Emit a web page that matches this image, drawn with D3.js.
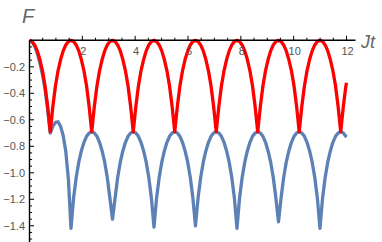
<!DOCTYPE html>
<html><head><meta charset="utf-8">
<script src="https://cdn.jsdelivr.net/npm/d3@7"></script>
<style>html,body{margin:0;padding:0;background:#fff;}svg{display:block;}</style>
</head><body>
<script>
// sample times Jt
const jt = [0,0.098,0.196,0.295,0.393,0.491,0.589,0.687,0.785,0.884,0.982,1.080,1.178,1.276,1.374,1.473,
1.571,1.669,1.767,1.865,1.963,2.062,2.160,2.258,2.356,2.454,2.553,2.651,2.749,2.847,2.945,3.043,
3.142,3.240,3.338,3.436,3.534,3.632,3.731,3.829,3.927,4.025,4.123,4.221,4.320,4.418,4.516,4.614,
4.712,4.811,4.909,5.007,5.105,5.203,5.301,5.400,5.498,5.596,5.694,5.792,5.890,5.989,6.087,6.185,
6.283,6.381,6.480,6.578,6.676,6.774,6.872,6.970,7.069,7.167,7.265,7.363,7.461,7.559,7.658,7.756,
7.854,7.952,8.050,8.149,8.247,8.345,8.443,8.541,8.639,8.738,8.836,8.934,9.032,9.130,9.228,9.327,
9.425,9.523,9.621,9.719,9.817,9.916,10.014,10.112,10.210,10.308,10.407,10.505,10.603,10.701,10.799,10.897,
10.996,11.094,11.192,11.290,11.388,11.486,11.585,11.683,11.781,11.879,11.977,12.0];

// red series F
const redF = [0,-0.009,-0.035,-0.08,-0.145,-0.23,-0.345,-0.5,-0.69,-0.5,-0.345,-0.23,-0.145,-0.08,-0.035,-0.009,
0,-0.009,-0.035,-0.08,-0.145,-0.23,-0.345,-0.5,-0.69,-0.5,-0.345,-0.23,-0.145,-0.08,-0.035,-0.009,
0,-0.009,-0.035,-0.08,-0.145,-0.23,-0.345,-0.5,-0.69,-0.5,-0.345,-0.23,-0.145,-0.08,-0.035,-0.009,
0,-0.009,-0.035,-0.08,-0.145,-0.23,-0.345,-0.5,-0.69,-0.5,-0.345,-0.23,-0.145,-0.08,-0.035,-0.009,
0,-0.009,-0.035,-0.08,-0.145,-0.23,-0.345,-0.5,-0.69,-0.5,-0.345,-0.23,-0.145,-0.08,-0.035,-0.009,
0,-0.009,-0.035,-0.08,-0.145,-0.23,-0.345,-0.5,-0.69,-0.5,-0.345,-0.23,-0.145,-0.08,-0.035,-0.009,
0,-0.009,-0.035,-0.08,-0.145,-0.23,-0.345,-0.5,-0.69,-0.5,-0.345,-0.23,-0.145,-0.08,-0.035,-0.009,
0,-0.009,-0.035,-0.08,-0.145,-0.23,-0.345,-0.5,-0.69,-0.5,-0.345,-0.32];

// blue series F
const blueF = [0,-0.012,-0.045,-0.1,-0.17,-0.26,-0.37,-0.52,-0.7,-0.65,-0.62,-0.615,-0.65,-0.72,-0.84,-1.05,-1.42,
-1.19,-1.035,-0.92,-0.835,-0.77,-0.725,-0.699,-0.69,-0.699,-0.725,-0.77,-0.835,-0.92,-1.035,-1.19,-1.35,
-1.19,-1.035,-0.92,-0.835,-0.77,-0.725,-0.699,-0.69,-0.699,-0.725,-0.77,-0.835,-0.92,-1.035,-1.19,-1.41,
-1.19,-1.035,-0.92,-0.835,-0.77,-0.725,-0.699,-0.69,-0.699,-0.725,-0.77,-0.835,-0.92,-1.035,-1.19,-1.40,
-1.19,-1.035,-0.92,-0.835,-0.77,-0.725,-0.699,-0.69,-0.699,-0.725,-0.77,-0.835,-0.92,-1.035,-1.19,-1.42,
-1.19,-1.035,-0.92,-0.835,-0.77,-0.725,-0.699,-0.69,-0.699,-0.725,-0.77,-0.835,-0.92,-1.035,-1.19,-1.37,
-1.19,-1.035,-0.92,-0.835,-0.77,-0.725,-0.699,-0.69,-0.699,-0.725,-0.77,-0.835,-0.92,-1.035,-1.19,-1.42,
-1.19,-1.035,-0.92,-0.835,-0.77,-0.725,-0.699,-0.69,-0.699,-0.725,-0.73];

const xMajor = [2,4,6,8,10,12];
const yMajor = [-0.2,-0.4,-0.6,-0.8,-1.0,-1.2,-1.4];
const xLabel = "Jt";
const yLabel = "F";

const W = 382, H = 242;
const svg = d3.select("body").append("svg").attr("width", W).attr("height", H);

const x = d3.scaleLinear().domain([0, 12]).range([29.5, 346.5]);
const y = d3.scaleLinear().domain([0, -1.52]).range([40.3, 241.7]);

const tickCol = "#555";
const font = "'Liberation Sans', Arial, sans-serif";

// curves: blue first, red on top
const line = d3.line().x(d => x(d[0])).y(d => y(d[1])).curve(d3.curveLinear);
svg.append("path").datum(jt.map((t, i) => [t, blueF[i]]))
  .attr("d", line).attr("fill", "none").attr("stroke", "#5E81B5")
  .attr("stroke-width", 3.3).attr("stroke-linejoin", "round").attr("stroke-linecap", "butt");
svg.append("path").datum(jt.map((t, i) => [t, redF[i]]))
  .attr("d", line).attr("fill", "none").attr("stroke", "#FF0000")
  .attr("stroke-width", 3.3).attr("stroke-linejoin", "round").attr("stroke-linecap", "butt");

// x axis (ticks pointing up, inward)
const xMinor = d3.range(0.5, 12.01, 0.5).filter(v => !xMajor.includes(v));
const xAxis = svg.append("g").attr("transform", `translate(0,${y(0)})`);
xAxis.append("line").attr("x1", x(0)).attr("x2", 355.5).attr("y1", 0).attr("y2", 0)
  .attr("stroke", "#000").attr("stroke-width", 1.4);
xAxis.selectAll(".xmaj").data(xMajor).join("line")
  .attr("x1", d => x(d)).attr("x2", d => x(d)).attr("y1", 0).attr("y2", -4.5)
  .attr("stroke", "#000").attr("stroke-width", 1);
xAxis.selectAll(".xmin").data(xMinor).join("line")
  .attr("x1", d => x(d)).attr("x2", d => x(d)).attr("y1", 0).attr("y2", -2.6)
  .attr("stroke", "#000").attr("stroke-width", 1);
xAxis.selectAll("text").data(xMajor).join("text")
  .attr("x", d => x(d) + 1).attr("y", 15.2)
  .attr("text-anchor", "middle").attr("fill", tickCol)
  .attr("font-family", font).attr("font-size", 11).text(d => d);

// y axis (ticks pointing right, inward)
const yMinor = d3.range(1, 31).map(i => -i * 0.05).filter(v => !yMajor.some(m => Math.abs(m - v) < 1e-6));
const yAxis = svg.append("g").attr("transform", `translate(${x(0)},0)`);
yAxis.append("line").attr("x1", 0).attr("x2", 0).attr("y1", y(0)).attr("y2", H + 2)
  .attr("stroke", "#000").attr("stroke-width", 1.4);
yAxis.selectAll(".ymaj").data(yMajor).join("line")
  .attr("x1", 0).attr("x2", 4.5).attr("y1", d => y(d)).attr("y2", d => y(d))
  .attr("stroke", "#000").attr("stroke-width", 1);
yAxis.selectAll(".ymin").data(yMinor).join("line")
  .attr("x1", 0).attr("x2", 2.6).attr("y1", d => y(d)).attr("y2", d => y(d))
  .attr("stroke", "#000").attr("stroke-width", 1);
yAxis.selectAll("text").data(yMajor).join("text")
  .attr("x", -4.5).attr("y", d => y(d) + 4)
  .attr("text-anchor", "end").attr("fill", tickCol)
  .attr("font-family", font).attr("font-size", 11).text(d => d3.format(".1f")(d));

// axis labels
svg.append("text").attr("x", 22).attr("y", 22.5).attr("fill", "#666")
  .attr("font-family", font).attr("font-style", "italic").attr("font-size", 20).text(yLabel);
svg.append("text").attr("x", 361).attr("y", 47.5).attr("fill", "#666")
  .attr("font-family", font).attr("font-style", "italic").attr("font-size", 18).text(xLabel);
</script>
</body></html>
